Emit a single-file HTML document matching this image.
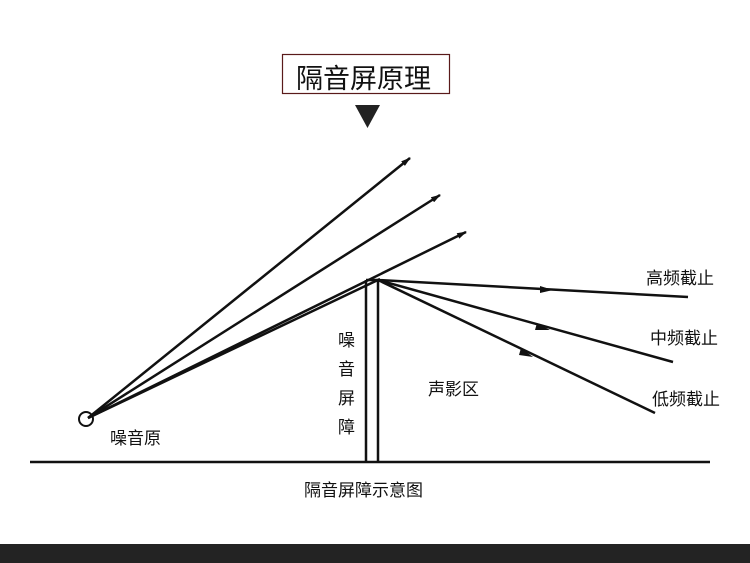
<!DOCTYPE html>
<html><head><meta charset="utf-8"><style>
body{margin:0;width:750px;height:563px;background:#fff;overflow:hidden;position:relative;font-family:"Liberation Sans","Noto Sans CJK SC",sans-serif}
.t{position:absolute;color:#111;font-size:17px;white-space:nowrap}
</style></head><body>
<svg width="750" height="563" style="position:absolute;left:0;top:0">
<defs><marker id="a" markerWidth="10" markerHeight="6" refX="9" refY="3" orient="auto" markerUnits="userSpaceOnUse"><path d="M0,0 L10,3 L0,6 Z" fill="#111"/></marker></defs>
<rect x="282.5" y="54.5" width="167" height="39" fill="none" stroke="#5a1a1a" stroke-width="1.2"/>
<path d="M355,105 L380,105 L367.5,128 Z" fill="#222"/>
<g stroke="#111" stroke-width="2.5" fill="none">
<circle cx="86" cy="419" r="7" stroke-width="2"/>
<line x1="88" y1="418" x2="410" y2="158" marker-end="url(#a)"/>
<line x1="88" y1="418" x2="440" y2="195" marker-end="url(#a)"/>
<line x1="88" y1="418" x2="466" y2="232" marker-end="url(#a)"/>
<line x1="88" y1="418" x2="380" y2="279"/>
<line x1="366" y1="280" x2="366" y2="462"/>
<line x1="378" y1="280" x2="378" y2="462"/>
<line x1="366" y1="280" x2="378" y2="280"/>
<line x1="30" y1="462" x2="710" y2="462"/>
<line x1="378" y1="280" x2="688" y2="297"/>
<line x1="378" y1="280" x2="673" y2="362"/>
<line x1="378" y1="280" x2="655" y2="413"/>
</g>
<g fill="#111">
<path d="M553,290 L540,286 L540,293 Z"/>
<path d="M550,330 L537,323 L535,330 Z"/>
<path d="M533,357 L521,348 L519,355 Z"/>
</g>
<rect x="0" y="544" width="750" height="19" fill="#232323"/>
</svg>
<div class="t" style="left:296px;top:57px;font-size:27px">隔音屏原理</div>
<div class="t" style="left:110px;top:424px">噪音原</div>
<div class="t" style="left:338px;top:326px;line-height:29px;width:20px">噪<br>音<br>屏<br>障</div>
<div class="t" style="left:428px;top:375px">声影区</div>
<div class="t" style="left:646px;top:264px">高频截止</div>
<div class="t" style="left:650px;top:324px">中频截止</div>
<div class="t" style="left:652px;top:385px">低频截止</div>
<div class="t" style="left:304px;top:476px">隔音屏障示意图</div>
</body></html>
